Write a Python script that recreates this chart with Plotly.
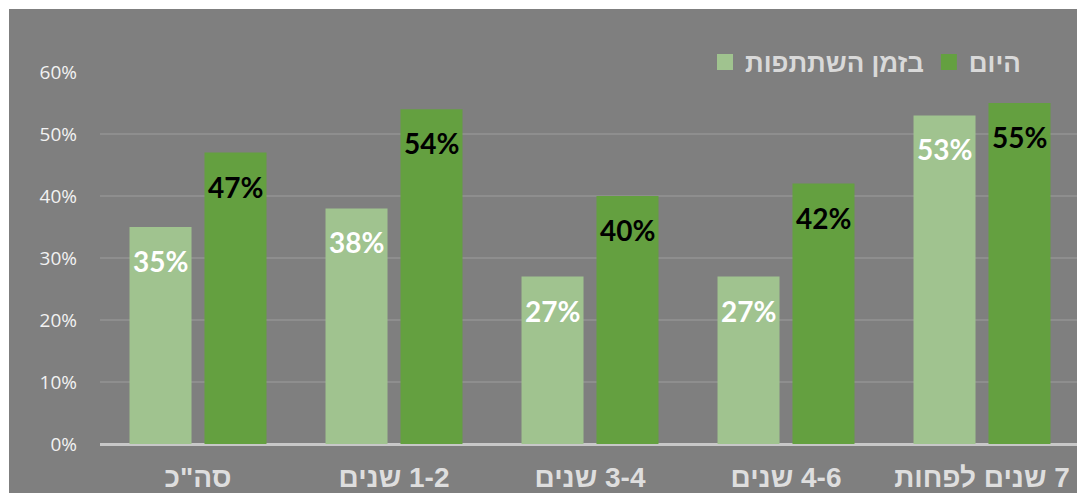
import plotly.graph_objects as go

RLM = "\u200f"
categories = ['סה"כ', "1-2 שנים", "3-4 שנים", "4-6 שנים", "7 שנים לפחות"]
series_names = ["בזמן השתתפות", "היום"]
then_values = [0.35, 0.38, 0.27, 0.27, 0.53]
today_values = [0.47, 0.54, 0.40, 0.42, 0.55]
y_ticks = [0, 0.1, 0.2, 0.3, 0.4, 0.5, 0.6]
y_tick_labels = ["0%", "10%", "20%", "30%", "40%", "50%", "60%"]

light = "#a0c38f"
dark = "#64a040"
bg = "#7f7f7f"

W, H = 1077, 485
L, R, T, B = 92, 5, 64, 49
pw, ph = W - L - R, H - T - B

cat_labels = [RLM + c for c in categories]

fig = go.Figure()
fig.add_trace(go.Bar(x=cat_labels, y=then_values, name=series_names[0], showlegend=False,
                     marker=dict(color=light, line=dict(width=0)), hoverinfo="skip"))
fig.add_trace(go.Bar(x=cat_labels, y=today_values, name=series_names[1], showlegend=False,
                     marker=dict(color=dark, line=dict(width=0)), hoverinfo="skip"))
# legend entries with larger square swatches
for name, col in zip(series_names, [light, dark]):
    fig.add_trace(go.Scatter(x=[None], y=[None], mode="markers", name=name,
                             marker=dict(symbol="square", size=18, color=col), hoverinfo="skip"))

annotations = []
for vals, shift, col in [(then_values, -37.5, "white"), (today_values, 37.5, "black")]:
    for c, v in zip(cat_labels, vals):
        annotations.append(dict(x=c, y=v, xref="x", yref="y", text=f"{round(v*100)}%",
                                showarrow=False, xshift=shift, yshift=-34, yanchor="middle",
                                font=dict(family="Lato", size=28, color=col, weight="bold")))

shapes = [
    dict(type="rect", xref="paper", yref="paper",
         x0=(1 - L) / pw, x1=(1074 - L) / pw, y0=-B / ph, y1=(ph + T - 1) / ph,
         fillcolor=bg, line=dict(width=0), layer="below"),
]

fig.update_layout(
    width=W, height=H,
    margin=dict(l=L, r=R, t=T, b=B, pad=0, autoexpand=False),
    paper_bgcolor="white", plot_bgcolor="rgba(0,0,0,0)",
    barmode="group", bargap=0.235, bargroupgap=0.173,
    showlegend=True,
    legend=dict(orientation="h", x=(1026 - 8 - L) / pw, xanchor="right", y=1 + 10 / ph, yanchor="middle",
                bgcolor="rgba(0,0,0,0)", itemsizing="trace", itemwidth=30,
                font=dict(family="Liberation Sans", size=26, color="#d9d9d9", weight="bold")),
    annotations=annotations, shapes=shapes,
    xaxis=dict(showgrid=False, showline=False, ticks="", ticklabelstandoff=14, tickangle=0,
               automargin=False,
               tickfont=dict(family="Liberation Sans", size=28, color="#dedede", weight="bold")),
    yaxis=dict(range=[0, 0.6], tickvals=y_ticks, ticktext=y_tick_labels, automargin=False,
               showgrid=True, gridcolor="#8e8e8e", gridwidth=2,
               zeroline=True, zerolinecolor="#c8c8c8", zerolinewidth=3,
               ticks="", ticklabelstandoff=22,
               tickfont=dict(family="Open Sans", size=19, color="#f2f2f2")),
)
fig.write_html("out.html")
